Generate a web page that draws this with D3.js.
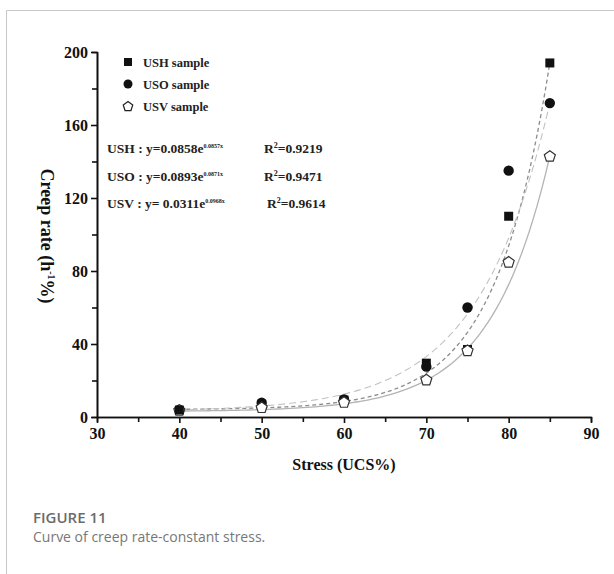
<!DOCTYPE html>
<meta charset="utf-8">
<script src="https://d3js.org/d3.v7.min.js"></script>
<style>
  body { margin: 0; background: #fff; }
  svg text { font-family: "Liberation Serif", "Times New Roman", serif; font-weight: bold; }
  svg text.cap { font-family: "Open Sans", "Noto Sans", sans-serif; }
</style>
<body>
<svg width="614" height="574"></svg>
<script>
    // values
    var stress = [40, 50, 60, 70, 75, 80, 85];
    var ush    = [3.8, 7.0, 9.3, 29.5, 37.0, 110, 194];
    var uso    = [4.0, 7.8, 9.6, 27.6, 60.0, 135, 172];
    var usv    = [3.8, 5.3, 8.2, 20.5, 36.5, 85, 143];
    var fitNames = ['USH', 'USO', 'USV'];
    var fitC = [4, 3, 3];
    var fitA = [190, 169, 140];
    var fitB = [0.15, 0.115, 0.14];
    var eqText = ['0.0858e', '0.0893e', ' 0.0311e'];
    var eqExp  = ['0.0857x', '0.0871x', '0.0968x'];
    var r2     = ['0.9219', '0.9471', '0.9614'];
    var xTicks = [30, 40, 50, 60, 70, 80, 90];
    var yTicks = [0, 40, 80, 120, 160, 200];

    var svg = d3.select('svg');
    var x = d3.scaleLinear().domain([30, 90]).range([97, 591]);
    var y = d3.scaleLinear().domain([0, 200]).range([417, 52]);

    // frame of the figure box
    svg.append('path').attr('d', 'M614,10.5H6.5V574').attr('fill', 'none')
        .attr('stroke', '#c8c8c8').attr('stroke-width', 1);

    // axes
    var xMinor = svg.append('g').attr('transform', 'translate(0,417)')
        .call(d3.axisBottom(x).tickValues(d3.range(35, 90, 10)).tickSize(5).tickFormat(''));
    var xAxis = svg.append('g').attr('transform', 'translate(0,417)')
        .call(d3.axisBottom(x).tickValues(xTicks).tickSize(6).tickPadding(5).tickSizeOuter(0));
    var yMinor = svg.append('g').attr('transform', 'translate(97,0)')
        .call(d3.axisLeft(y).tickValues(d3.range(20, 200, 40)).tickSize(5).tickFormat(''));
    var yAxis = svg.append('g').attr('transform', 'translate(97,0)')
        .call(d3.axisLeft(y).tickValues(yTicks).tickSize(6).tickPadding(3).tickSizeOuter(0));
    [xMinor, xAxis, yMinor, yAxis].forEach(function(g){
        g.attr('font-family', null).attr('font-size', null);
        g.selectAll('path, line').attr('stroke', '#111').attr('stroke-width', 1.6);
        g.selectAll('text').attr('font-size', 16).attr('fill', '#111');
    });

    // axis titles
    svg.append('text').attr('x', 344).attr('y', 470).attr('text-anchor', 'middle')
        .attr('font-size', 16).attr('fill', '#111').text('Stress (UCS%)');
    var yt = svg.append('text').attr('transform', 'translate(41,236) rotate(90)')
        .attr('text-anchor', 'middle').attr('font-size', 18).attr('fill', '#111');
    yt.append('tspan').text('Creep rate (h');
    yt.append('tspan').attr('dy', -7).attr('font-size', 10).text('-1');
    yt.append('tspan').attr('dy', 7).text('%)');

    // fit curves
    var curveStyle = [
        {stroke: '#8c8c8c', dash: '4,3', w: 1.3},
        {stroke: '#c2c2c2', dash: '7,4', w: 1.1},
        {stroke: '#b3b3b3', dash: null, w: 1.3}
    ];
    var xs = d3.range(40, 85.01, 0.5);
    var line = d3.line().x(function(d){ return x(d[0]); }).y(function(d){ return y(d[1]); });
    fitNames.forEach(function(n, i){
        var pts = xs.map(function(v){ return [v, fitC[i] + fitA[i] * Math.exp(fitB[i] * (v - 85))]; });
        svg.append('path').datum(pts).attr('d', line).attr('fill', 'none')
            .attr('stroke', curveStyle[i].stroke).attr('stroke-width', curveStyle[i].w)
            .attr('stroke-dasharray', curveStyle[i].dash);
    });

    // markers
    function pentagon(r){
        var p = d3.range(5).map(function(k){
            var a = -Math.PI / 2 + k * 2 * Math.PI / 5;
            return [r * Math.cos(a), r * Math.sin(a)];
        });
        return 'M' + p.join('L') + 'Z';
    }
    var sq = svg.selectAll('rect.ush').data(ush).enter().append('rect').attr('class', 'ush')
        .attr('x', function(d, i){ return x(stress[i]) - 4.5; })
        .attr('y', function(d){ return y(d) - 4.5; })
        .attr('width', 9).attr('height', 9).attr('fill', '#111');
    svg.selectAll('circle.uso').data(uso).enter().append('circle').attr('class', 'uso')
        .attr('cx', function(d, i){ return x(stress[i]); })
        .attr('cy', function(d){ return y(d); })
        .attr('r', 5.2).attr('fill', '#111');
    svg.selectAll('path.usv').data(usv).enter().append('path').attr('class', 'usv')
        .attr('transform', function(d, i){ return 'translate(' + x(stress[i]) + ',' + (y(d) + 0.5) + ')'; })
        .attr('d', pentagon(5.8)).attr('fill', '#fff').attr('stroke', '#333').attr('stroke-width', 1.2);
    // at 40 the square sits on top of the others
    sq.filter(function(d, i){ return i === 0; }).raise();

    // legend
    var legY = [62, 84, 106];
    svg.append('rect').attr('x', 124).attr('y', legY[0] - 4).attr('width', 8).attr('height', 8).attr('fill', '#111');
    svg.append('circle').attr('cx', 128).attr('cy', legY[1]).attr('r', 4.5).attr('fill', '#111');
    svg.append('path').attr('transform', 'translate(128,' + (legY[2] + 0.5) + ')')
        .attr('d', pentagon(5)).attr('fill', '#fff').attr('stroke', '#222').attr('stroke-width', 1.2);
    fitNames.forEach(function(n, i){
        svg.append('text').attr('x', 143).attr('y', legY[i] + 4.5).attr('font-size', 12.5)
            .attr('fill', '#222').text(n + ' sample');
    });

    // equations
    var eqY = [148, 176, 203];
    fitNames.forEach(function(n, i){
        var t = svg.append('text').attr('x', 107).attr('y', eqY[i] + 4.5)
            .attr('font-size', 13.5).attr('fill', '#222');
        t.append('tspan').text(n + ' : y=' + eqText[i]);
        t.append('tspan').attr('dy', -5).attr('font-size', 6).text(eqExp[i]);
        svg.append('text').attr('x', 264 + (i == 2 ? 3 : 0)).attr('y', eqY[i] + 4.5)
            .attr('font-size', 13.5).attr('fill', '#222')
            .html('R<tspan dy="-5" font-size="8">2</tspan><tspan dy="5">=' + r2[i] + '</tspan>');
    });

    // caption
    svg.append('text').attr('class', 'cap').attr('x', 33).attr('y', 523)
        .attr('font-size', 15).attr('fill', '#6b6b6b').style('font-weight', 600).text('FIGURE 11');
    svg.append('text').attr('class', 'cap').attr('x', 33).attr('y', 542)
        .attr('font-size', 14).attr('fill', '#777').style('font-weight', 400)
        .text('Curve of creep rate-constant stress.');
</script>
</body>
